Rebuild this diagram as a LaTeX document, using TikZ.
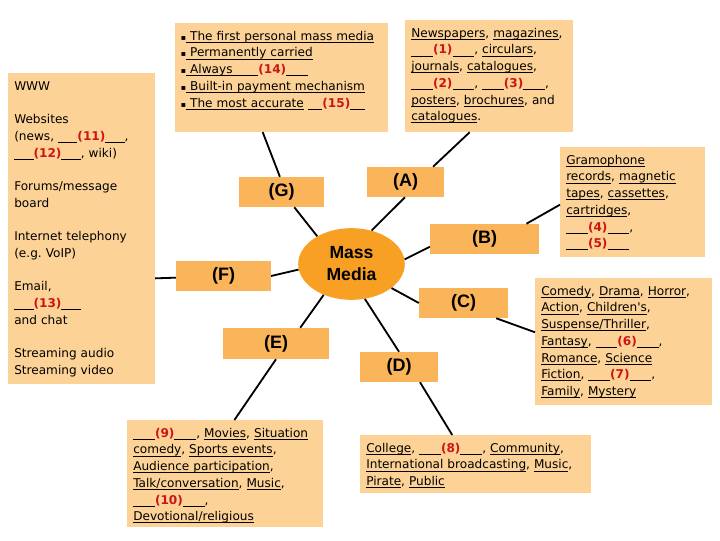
\documentclass[tikz,border=0pt]{standalone}
\usepackage{fontspec}
\setmainfont{DejaVu Sans}
\newfontfamily\lblfont{Liberation Sans}
\usetikzlibrary{shapes.geometric}
\definecolor{boxpeach}{RGB}{252,210,150}
\definecolor{lblorange}{RGB}{250,180,90}
\definecolor{huborange}{RGB}{247,160,35}
\definecolor{numred}{RGB}{204,20,20}
\frenchspacing
\newcommand{\uword}[1]{\leavevmode\hbox{\setbox0\hbox{#1}\rlap{\rule[-1.7pt]{\wd0}{0.55pt}}\box0}}
\newcommand{\blankno}[2][1.8em]{\leavevmode\rule[-1.7pt]{#1}{0.55pt}\textcolor{numred}{\textbf{(#2)}}\rule[-1.7pt]{#1}{0.55pt}}
\newcommand{\sqbul}{\leavevmode{\fontsize{5.5}{5.5}\selectfont ▪}}
\tikzset{
  outbox/.style={fill=boxpeach, anchor=north west, align=left, inner xsep=4.25pt, inner ysep=3.7pt,
    text height=8.3pt, font=\fontsize{8.6}{11.9}\selectfont},
  lblbox/.style={fill=lblorange, minimum height=21.3pt, inner sep=0pt,
    font=\lblfont\bfseries\fontsize{12.8}{15.6}\selectfont},
  hub/.style={ellipse, fill=huborange, minimum width=75.8pt, minimum height=51pt, inner sep=0pt,
    align=center, font=\lblfont\bfseries\fontsize{12.5}{15.6}\selectfont},
  spoke/.style={line width=1.3pt}
}
\begin{document}
\begin{tikzpicture}[x=0.025cm,y=-0.025cm]
\useasboundingbox (0,0) rectangle (720,540);
% centre and the seven labels
\node[hub] (mm) at (351.5,264) {Mass\\Media};
\node[lblbox,minimum width=60.2pt] (G) at (281.5,192) {(G)};
\node[lblbox,minimum width=54.6pt] (A) at (405.5,182) {(A)};
\node[lblbox,minimum width=77.2pt] (B) at (484.5,239) {(B)};
\node[lblbox,minimum width=67.3pt] (F) at (223.5,276) {(F)};
\node[lblbox,minimum width=63.1pt] (C) at (463.5,303) {(C)};
\node[lblbox,minimum width=75.1pt,minimum height=22pt] (E) at (276,343.5) {(E)};
\node[lblbox,minimum width=55.3pt] (D) at (399,367) {(D)};
% outer boxes
\node[outbox,text width=95.7pt,text depth=205.4pt] (net) at (8,73)
  {WWW\\[11.9pt]Websites\\(news, \blankno[1.6em]{11},\\\blankno[1.6em]{12}, wiki)\\[11.9pt]
   Forums/message\\board\\[11.9pt]Internet telephony\\(e.g. VoIP)\\[11.9pt]
   Email,\\\blankno[1.6em]{13}\\and chat\\[11.9pt]Streaming audio\\Streaming video};
\node[outbox,text width=143pt,text depth=61.5pt,inner xsep=4pt] (mobile) at (175,23)
  {\sqbul\uword{ The first personal mass media}\\\sqbul\uword{ Permanently carried}\\
   \sqbul\uword{ Always }\blankno{14}\\\sqbul\uword{ Built-in payment mechanism}\\
   \sqbul\uword{ The most accurate} \blankno[1.2em]{15}};
\node[outbox,text width=110.6pt,text depth=63.7pt] (print) at (405,20)
  {\uword{Newspapers}, \uword{magazines},\\\blankno{1}, \uword{circulars},\\
   \uword{journals}, \uword{catalogues},\\\blankno{2}, \blankno{3},\\
   \uword{posters}, \uword{brochures}, and\\\uword{catalogues}.};
\node[outbox,text width=94.3pt,text depth=62.3pt] (record) at (560,147)
  {\uword{Gramophone}\\\uword{records}, \uword{magnetic}\\\uword{tapes}, \uword{cassettes},\\
   \uword{cartridges},\\\blankno{4},\\\blankno{5}};
\node[outbox,text width=116.9pt,text depth=74.3pt] (film) at (535,278)
  {\uword{Comedy}, \uword{Drama}, \uword{Horror},\\\uword{Action}, \uword{Children\textquotesingle s},\\
   \uword{Suspense/Thriller},\\\uword{Fantasy}, \blankno{6},\\\uword{Romance}, \uword{Science}\\
   \uword{Fiction}, \blankno{7},\\\uword{Family}, \uword{Mystery}};
\node[outbox,text width=130.4pt,text depth=60.1pt] (tv) at (127,420)
  {\blankno{9}, \uword{Movies}, \uword{Situation}\\\uword{comedy}, \uword{Sports events},\\
   \uword{Audience participation},\\\uword{Talk/conversation}, \uword{Music},\\
   \blankno{10},\\\uword{Devotional/religious}};
\node[outbox,text width=155.9pt,text depth=25.4pt] (radio) at (360,435)
  {\uword{College}, \blankno{8}, \uword{Community},\\
   \uword{International broadcasting}, \uword{Music},\\\uword{Pirate}, \uword{Public}};
% spokes
\draw[spoke] (mm.141) -- (G.-50) (G.96) -- (mobile.-109);
\draw[spoke] (mm.59) -- (A.-92) (A.29) -- (print.-109);
\draw[spoke] (mm.5) -- (B.188) (B.20) -- (record.182);
\draw[spoke] (mm.-31) -- (C.180) (C.-25) -- (film.174);
\draw[spoke] (mm.-69) -- (D.90) (D.-36) -- (radio.129);
\draw[spoke] (mm.-132) -- (E.33) (E.-90) -- (tv.80);
\draw[spoke] (mm.186) -- (F.0) (F.182) -- (net.-34);
\end{tikzpicture}
\end{document}
